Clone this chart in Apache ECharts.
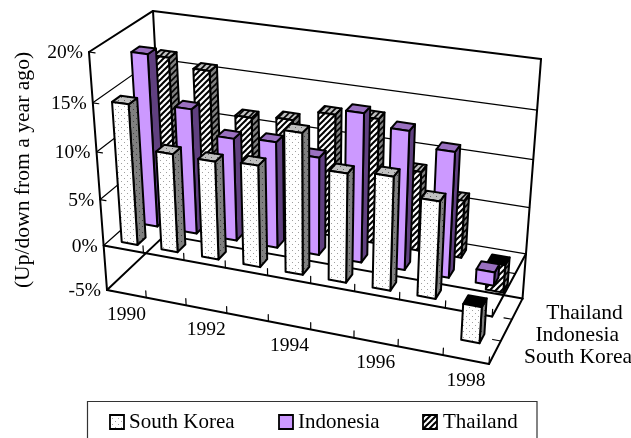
<!DOCTYPE html>
<html>
<head>
<meta charset="utf-8">
<style>html,body{margin:0;padding:0;background:#fff}#chart{width:631px;height:438px}</style>
<script src="https://cdn.jsdelivr.net/npm/echarts@6/dist/echarts.min.js"></script>
</head>
<body>
<div id="chart"></div>
<script>
// Export growth by country and year
const categories = ['1990','1991','1992','1993','1994','1995','1996','1997','1998'];
const seriesNames = ['South Korea','Indonesia','Thailand'];
const southKorea = [14.8,10.4,10.3,10.6,14.5,11.2,11.6,9.9,-3.8];
const indonesia = [18.3,13.3,10.9,11.2,10.3,15.4,14.3,12.9,1.4];
const thailand = [16.5,15.7,11.4,11.8,13.0,13.2,8.4,6.1,-3.0];
const valueTicks = [-5,0,5,10,15,20];
const valueTickLabels = ['-5%','0%','5%','10%','15%','20%'];
const yTitle = '(Up/down from a year ago)';

const serif = '"Liberation Serif","Times New Roman",serif';

// Perspective box: u along the years, v into the depth, w up the value axis.
function project(u, v, w) {
  const q = 1 - 0.0859 * u + 0.0765 * v - 0.0805 * w;
  return [
    (107 + 340.0 * u + 70.6 * v - 25.2 * w) / q,
    (290 + 42.7 * u - 36.9 * v - 242.2 * w) / q
  ];
}

function tile(base, paint) {
  const c = document.createElement('canvas');
  c.width = c.height = 6;
  const g = c.getContext('2d');
  g.fillStyle = base;
  g.fillRect(0, 0, 6, 6);
  paint(g);
  return { image: c, repeat: 'repeat' };
}
const dots = color => g => {
  g.fillStyle = color;
  g.fillRect(1, 1, 1, 1);
  g.fillRect(4, 4, 1, 1);
};
const stripes = (color, width) => g => {
  g.strokeStyle = color;
  g.lineWidth = width;
  [[-1, 7, 7, -1], [-4, 4, 4, -4], [2, 10, 10, 2]].forEach(l => {
    g.beginPath();
    g.moveTo(l[0], l[1]);
    g.lineTo(l[2], l[3]);
    g.stroke();
  });
};

const faces = [
  { front: tile('#ffffff', dots('#a0a0a0')), side: tile('#808080', dots('#404040')), top: tile('#c0c0c0', dots('#606060')) },
  { front: '#cc99ff', side: '#604080', top: '#9a70c0' },
  { front: tile('#ffffff', stripes('#000000', 2)), side: tile('#808080', stripes('#000000', 1.6)), top: tile('#c0c0c0', stripes('#000000', 1.6)) }
];

function poly(points, fill) {
  return {
    type: 'polygon',
    shape: { points },
    style: { fill, stroke: '#000', lineWidth: 2, lineJoin: 'round' }
  };
}

function renderBar(depthIndex) {
  return function (params, api) {
    const cs = params.coordSys;
    const k = api.value(0), val = api.value(1);
    const band = api.size([1, 0])[0];
    const head = api.coord([k, val]), zero = api.coord([k, 0]);
    const toW = py => 1 - (py - cs.y) / cs.height;
    const u0 = (head[0] - band * 0.2 - cs.x) / cs.width;
    const u1 = (head[0] + band * 0.2 - cs.x) / cs.width;
    const v0 = (depthIndex + 0.3) / seriesNames.length;
    const v1 = (depthIndex + 0.7) / seriesNames.length;
    const wTop = toW(Math.min(head[1], zero[1]));
    const wLow = toW(Math.max(head[1], zero[1]));
    const f = faces[depthIndex];
    return {
      type: 'group',
      children: [
        poly([project(u1, v0, wLow), project(u1, v1, wLow), project(u1, v1, wTop), project(u1, v0, wTop)], f.side),
        poly([project(u0, v0, wTop), project(u1, v0, wTop), project(u1, v1, wTop), project(u0, v1, wTop)], val < 0 ? '#000' : f.top),
        poly([project(u0, v0, wLow), project(u1, v0, wLow), project(u1, v0, wTop), project(u0, v0, wTop)], f.front)
      ]
    };
  };
}

function seg(a, b, lineWidth) {
  return {
    type: 'line',
    shape: { x1: a[0], y1: a[1], x2: b[0], y2: b[1] },
    style: { stroke: '#000', lineWidth, lineCap: 'round' }
  };
}
function label(text, x, y, size, align, extra) {
  return Object.assign({
    type: 'text',
    x, y,
    style: { text, font: size + 'px ' + serif, fill: '#000', align: align || 'center', verticalAlign: 'middle' }
  }, extra || {});
}

function renderFrame(params, api) {
  const cs = params.coordSys;
  const W = value => 1 - (api.coord([0, value])[1] - cs.y) / cs.height;
  const w0 = W(0), wLow = W(valueTicks[0]), wHigh = W(valueTicks[valueTicks.length - 1]);
  const kids = [];
  const heavy = 2, thin = 1.2;

  // Walls and gridlines
  valueTicks.forEach((t, i) => {
    const w = W(t);
    if (t !== valueTicks[0] && t !== valueTicks[valueTicks.length - 1]) {
      kids.push(seg(project(0, 0, w), project(0, 1, w), thin));
      kids.push(seg(project(0, 1, w), project(1, 1, w), thin));
    }
    kids.push(seg(project(0, 0, w), project(0.016, 0, w), thin));
    const p = project(0, 0, w);
    kids.push(label(valueTickLabels[i], p[0] - 6, p[1] + 1, 19.5, 'right'));
  });
  kids.push(seg(project(0, 1, wHigh), project(1, 1, wHigh), heavy));
  kids.push(seg(project(0, 0, wHigh), project(0, 1, wHigh), heavy));
  kids.push(seg(project(0, 1, wHigh), project(0, 1, wLow), heavy));
  kids.push(seg(project(1, 1, wHigh), project(1, 1, wLow), heavy));
  kids.push(seg(project(0, 0, wHigh), project(0, 0, wLow), heavy));
  kids.push(seg(project(0, 1, wLow), project(1, 1, wLow), heavy));
  kids.push(seg(project(0, 0, wLow), project(0, 1, wLow), heavy));
  kids.push(seg(project(1, 0, wLow), project(1, 1, wLow), heavy));
  kids.push(seg(project(0, 0, wLow), project(1, 0, wLow), heavy));
  kids.push(seg(project(0, 0, w0), project(1, 0, w0), heavy));
  kids.push(seg(project(1, 0, w0), project(1, 1, w0), heavy));

  // Year ticks rise from both front edges, every other year labelled
  const n = categories.length;
  for (let k = 1; k <= n; k++) {
    [w0, wLow].forEach(w => kids.push(seg(project(k / n, 0, w), project(k / n, 0, w + 0.03), thin)));
  }
  categories.forEach((c, k) => {
    if (k % 2) return;
    const p = project((k + 0.5) / n, 0, wLow);
    kids.push(label(c, p[0], p[1] + 21, 19.5));
  });

  // Depth ticks and country labels along the right edge
  seriesNames.forEach((name, s) => {
    const d = s + 1;
    if (d < seriesNames.length) {
      [w0, wLow].forEach(w => kids.push(seg(project(1, d / 3, w), project(0.98, d / 3, w), thin)));
    }
    const p = project(1, (s + 0.5) / seriesNames.length, wLow);
    kids.push(label(name, p[0] + 29, p[1] + 5, 21.5, 'left'));
  });

  kids.push(label(yTitle, 23, 170, 21.6, 'center', { rotation: Math.PI / 2 }));

  // Key below the plot, its lower edge running off the page
  kids.push({ type: 'rect', shape: { x: 87.5, y: 401.5, width: 449.5, height: 60 }, style: { fill: '#fff', stroke: '#333', lineWidth: 1.2 } });
  [110, 279, 423].forEach((x, s) => {
    kids.push({ type: 'rect', shape: { x, y: 415, width: 14, height: 14 }, style: { fill: faces[s].front, stroke: '#000', lineWidth: 1.8 } });
  });
  [129, 298, 443].forEach((x, s) => kids.push(label(seriesNames[s], x, 422, 21, 'left')));

  return { type: 'group', children: kids };
}

const byDepth = [southKorea, indonesia, thailand];
const barSeries = [2, 1, 0].map(s => ({
  type: 'custom',
  name: seriesNames[s],
  silent: true,
  clip: false,
  renderItem: renderBar(s),
  encode: { x: 0, y: 1 },
  data: byDepth[s].map((v, k) => [k, v])
}));

const chart = echarts.init(document.getElementById('chart'));
chart.setOption({
  animation: false,
  backgroundColor: '#fff',
  grid: { left: 0, right: 0, top: 0, bottom: 0 },
  xAxis: { type: 'category', data: categories, show: false },
  yAxis: { type: 'value', min: -5, max: 20, interval: 5, show: false },
  series: [{
    type: 'custom',
    name: 'frame',
    silent: true,
    clip: false,
    renderItem: renderFrame,
    encode: { x: 0, y: 1 },
    data: [[0, 0]]
  }].concat(barSeries)
});
</script>
</body>
</html>
